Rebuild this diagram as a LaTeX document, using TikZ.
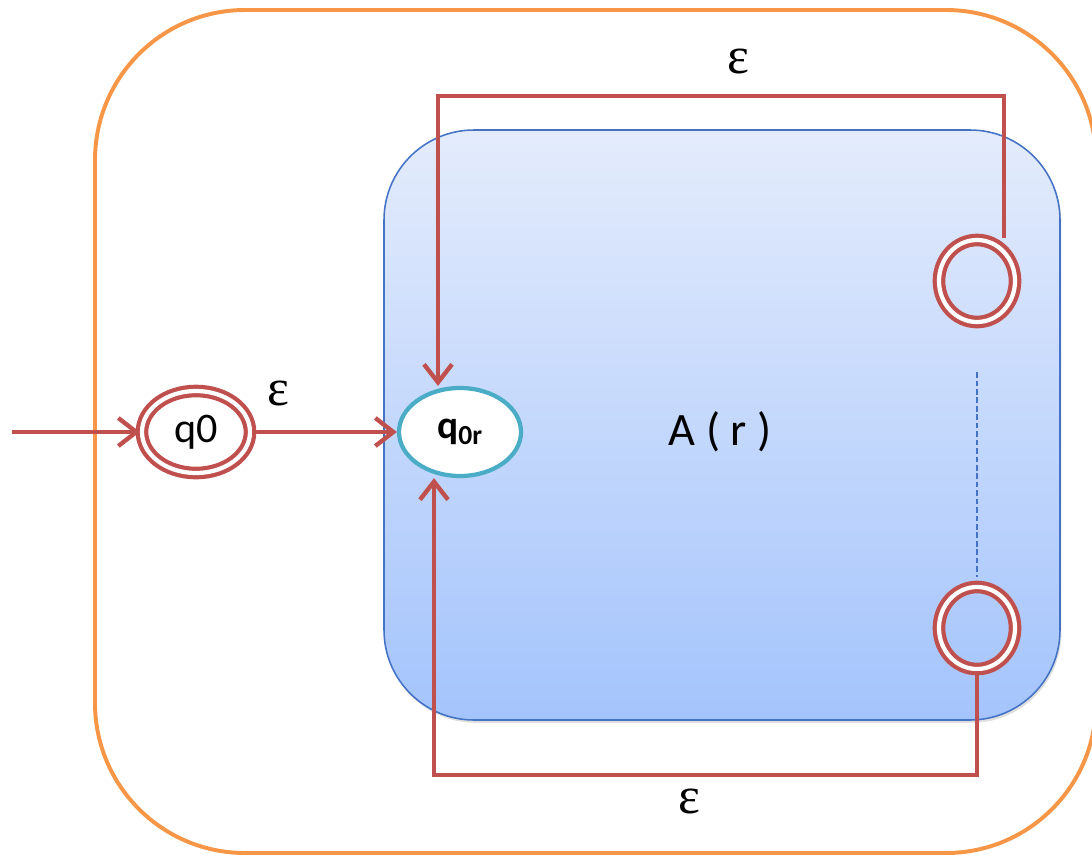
\documentclass[tikz,border=0pt]{standalone}
\usepackage{fontspec}
\setmainfont{Carlito}
\newfontfamily\epsfont{Liberation Serif}
\usetikzlibrary{shapes.geometric,arrows.meta,shadows}
\definecolor{nfared}{RGB}{192,80,77}
\definecolor{nfaorange}{RGB}{247,150,70}
\definecolor{nfablue}{RGB}{68,114,196}
\definecolor{nfateal}{RGB}{75,172,198}
\definecolor{boxtop}{RGB}{228,236,252}
\definecolor{boxbot}{RGB}{164,196,252}
\tikzset{node distance=2.0cm, auto,
  acc/.style={ellipse, draw=nfared, line width=3pt, double=white,
    double distance=3pt, inner sep=0pt},
  trans/.style={draw=nfared, line width=3.1pt,
    -{Straight Barb[length=4.5mm,width=7mm]}},
  eps/.style={font=\epsfont\fontsize{37}{37}\selectfont, inner sep=0pt}
}

\begin{document}
\begin{tikzpicture}[x=0.025cm, y=-0.025cm]
\useasboundingbox (0,0) rectangle (1092,856);
\clip (0,0) rectangle (1092,856);
\draw[nfaorange, line width=2.8pt, rounded corners=3.75cm] (95,10) rectangle (1096,853);
\draw[draw=nfablue, line width=1.1pt, rounded corners=2.25cm, top color=boxtop,
  bottom color=boxbot, drop shadow={opacity=0.25, shadow xshift=1pt, shadow yshift=-2pt}]
  (384,130) rectangle (1060,720);
% states
\node[acc, minimum width=2.7cm, minimum height=2.05cm,
  font=\fontsize{30}{30}\selectfont] (q0) at (196,432) {q0};
\node[ellipse, draw=nfateal, line width=3pt, fill=white, inner sep=0pt,
  minimum width=3.05cm, minimum height=2.2cm,
  font=\fontsize{28}{28}\selectfont] (q0r) at (460,432) {\textbf{q\textsubscript{0r}}};
\node[acc, minimum width=1.9cm, minimum height=2.05cm] (f1) at (977,281) {};
\node[acc, minimum width=1.9cm, minimum height=2.05cm] (f2) at (977,628) {};
\node[font=\fontsize{33}{33}\selectfont] (ar) at (720,432) {A ( r )};
\coordinate (in) at (12,432);
\coordinate (tr) at (1004,96);
\coordinate (tl) at (438,96);
\coordinate (br) at (977,775);
\coordinate (bl) at (434,775);
% transitions
\draw[trans] (in) -- (q0);
\draw[trans] (q0) -- node[eps, pos=0.18, above=6mm] {ε} (q0r);
\draw[trans] (f1.north -| tr) -- (tr) -- node[eps, pos=0.47, above=5mm] {ε} (tl) -- (tl |- q0r.north);
\draw[trans] (f2.south) -- (br) -- node[eps, pos=0.53, below=3mm] {ε} (bl) -- (q0r.south -| bl);
\draw[nfablue, line width=0.8pt, dash pattern=on 4pt off 2pt,
  shorten <=1.2cm, shorten >=0.2cm] (f1.south) -- (f2.north);
\end{tikzpicture}
\end{document}
